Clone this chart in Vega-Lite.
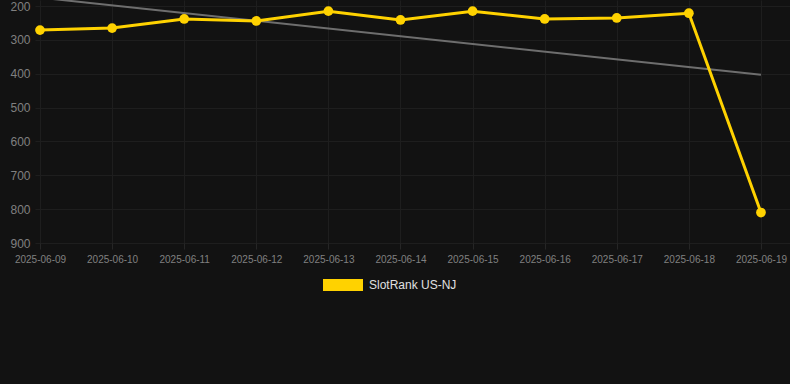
{
  "$schema": "https://vega.github.io/schema/vega-lite/v6.json",
  "width": 755,
  "height": 243,
  "autosize": {"type": "none"},
  "padding": {"left": 35, "top": 0, "right": 0, "bottom": 141},
  "background": "#121212",
  "config": {
    "view": {"stroke": null},
    "font": "Liberation Sans"
  },
  "encoding": {
    "x": {
      "field": "date",
      "type": "temporal",
      "scale": {
        "type": "utc",
        "domain": [
          {"year": 2025, "month": 6, "date": 8, "hours": 22, "minutes": 20, "utc": true},
          {"year": 2025, "month": 6, "date": 19, "hours": 9, "minutes": 40, "utc": true}
        ]
      },
      "axis": {
        "title": null,
        "values": [
          {"year": 2025, "month": 6, "date": 9, "utc": true},
          {"year": 2025, "month": 6, "date": 10, "utc": true},
          {"year": 2025, "month": 6, "date": 11, "utc": true},
          {"year": 2025, "month": 6, "date": 12, "utc": true},
          {"year": 2025, "month": 6, "date": 13, "utc": true},
          {"year": 2025, "month": 6, "date": 14, "utc": true},
          {"year": 2025, "month": 6, "date": 15, "utc": true},
          {"year": 2025, "month": 6, "date": 16, "utc": true},
          {"year": 2025, "month": 6, "date": 17, "utc": true},
          {"year": 2025, "month": 6, "date": 18, "utc": true},
          {"year": 2025, "month": 6, "date": 19, "utc": true}
        ],
        "format": "%Y-%m-%d",
        "labelColor": "#808080",
        "labelFontSize": 10,
        "labelPadding": 5,
        "labelFlush": false,
        "labelOverlap": false,
        "tickColor": "#262626",
        "tickSize": 6,
        "domain": false,
        "grid": true,
        "gridColor": "#1e1e1e",
        "gridWidth": 1
      }
    },
    "y": {
      "field": "rank",
      "type": "quantitative",
      "scale": {"domain": [182, 900], "reverse": true, "nice": false, "zero": false},
      "axis": {
        "title": null,
        "values": [200, 300, 400, 500, 600, 700, 800, 900],
        "labelColor": "#808080",
        "labelFontSize": 12,
        "labelPadding": 5,
        "ticks": false,
        "domain": false,
        "grid": true,
        "gridColor": "#1e1e1e",
        "gridWidth": 1
      }
    }
  },
  "layer": [
    {
      "data": {"values": [
        {"date": "2025-06-09", "rank": 175},
        {"date": "2025-06-19", "rank": 403}
      ]},
      "mark": {"type": "line", "color": "#6e6e6e", "strokeWidth": 2, "clip": false}
    },
    {
      "data": {"values": [
        {"date": "2025-06-09", "rank": 271},
        {"date": "2025-06-10", "rank": 265},
        {"date": "2025-06-11", "rank": 238},
        {"date": "2025-06-12", "rank": 244},
        {"date": "2025-06-13", "rank": 215},
        {"date": "2025-06-14", "rank": 241},
        {"date": "2025-06-15", "rank": 215},
        {"date": "2025-06-16", "rank": 238},
        {"date": "2025-06-17", "rank": 235},
        {"date": "2025-06-18", "rank": 221},
        {"date": "2025-06-19", "rank": 810}
      ]},
      "mark": {"type": "line", "strokeWidth": 3, "point": {"size": 95, "filled": true, "opacity": 1}},
      "encoding": {
        "color": {
          "datum": "SlotRank US-NJ",
          "type": "nominal",
          "scale": {"range": ["#FFD200"]},
          "legend": {
            "title": null,
            "orient": "none",
            "legendX": 288,
            "legendY": 265,
            "symbolType": "M-1,-0.3H1V0.3H-1Z",
            "symbolSize": 1600,
            "symbolStrokeWidth": 0,
            "symbolOpacity": 1,
            "labelColor": "#e0e0e0",
            "labelFontSize": 12,
            "labelOffset": 6
          }
        }
      }
    }
  ]
}
